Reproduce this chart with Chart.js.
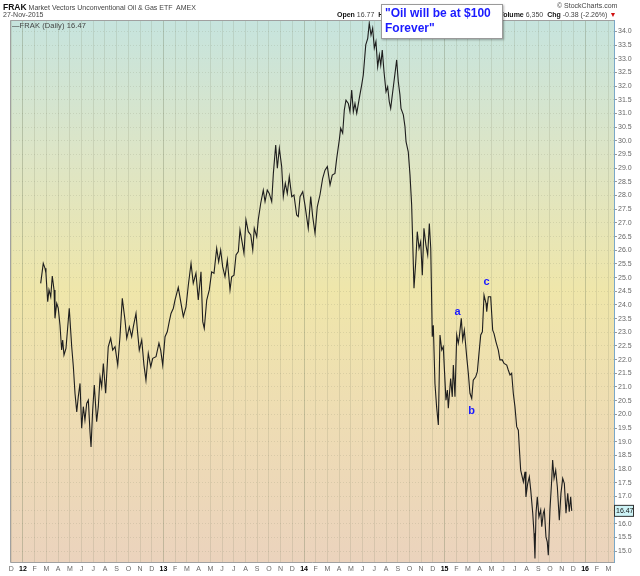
<!DOCTYPE html>
<html>
<head>
<meta charset="utf-8">
<script src="https://cdn.jsdelivr.net/npm/chart.js@4.4.0/dist/chart.umd.min.js"></script>
<style>
  body { margin: 0; background: #fff; font-family: "Liberation Sans", Arial, sans-serif; }
  #wrap { position: relative; width: 640px; height: 576px; overflow: hidden; }
  #myChart { position: absolute; left: 0; top: 0; }
  .t { position: absolute; white-space: nowrap; color: #444; font-size: 7px; }
  .b { font-weight: bold; color: #111; }
  #note { position: absolute; left: 381px; top: 4px; width: 117px; height: 32px; background: #fff;
          border: 1px solid #9a9a9a; box-shadow: 1px 1px 2px rgba(0,0,0,0.3); padding: 1px 0 0 3px;
          color: #1a1aff; font-weight: bold; font-size: 12px; line-height: 15px; }
</style>
</head>
<body>
<div id="wrap">
  <canvas id="myChart" width="640" height="576"></canvas>
  <div class="t" style="left:3px;top:2px;"><span class="b" style="font-size:8.5px">FRAK</span> Market Vectors Unconventional Oil &amp; Gas ETF&nbsp; AMEX</div>
  <div class="t" style="left:3px;top:11px;">27-Nov-2015</div>
  <div class="t" style="left:12px;top:21px;color:#444;font-size:7.5px;letter-spacing:0.1px;"><span style="color:#333">&#8212;</span>FRAK (Daily) 16.47</div>
  <div class="t" style="left:557px;top:2px;">&#169; StockCharts.com</div>
  <div class="t" style="left:337px;top:11px;"><span class="b">Open</span> 16.77&nbsp; <span class="b">H</span></div>
  <div class="t" style="left:499px;top:11px;"><span class="b">Volume</span> 6,350&nbsp; <span class="b">Chg</span> -0.38 (-2.26%) <span style="color:#d01010">&#9660;</span></div>
  <div id="note">"Oil will be at $100<br>Forever"</div>
</div>
<script>
// FRAK daily close (x = months since Jan 2012)
const monthPos = [1.51,1.73,1.88,1.96,2.11,2.22,2.37,2.50,2.65,2.73,2.88,3.01,3.16,3.30,3.39,3.50,3.67,3.95,4.16,4.30,
  4.44,4.59,4.72,4.87,5.01,5.15,5.29,5.44,5.58,5.72,5.81,5.95,6.09,6.29,6.43,6.58,6.72,6.86,7.06,7.28,
  7.49,7.66,7.86,8.09,8.28,8.48,8.71,8.86,9.08,9.28,9.42,9.65,9.77,9.93,10.14,10.33,10.50,10.70,10.91,11.08,
  11.36,11.61,11.76,11.93,12.13,12.32,12.49,12.64,12.84,12.98,13.26,13.69,13.92,14.12,14.35,14.54,14.77,14.97,15.20,15.35,
  15.48,15.69,15.91,16.11,16.31,16.54,16.71,16.88,17.05,17.25,17.45,17.68,17.82,18.02,18.19,18.39,18.53,18.73,18.87,19.04,
  19.24,19.45,19.62,19.75,19.96,20.09,20.30,20.52,20.67,20.86,21.03,21.24,21.38,21.58,21.72,21.89,22.09,22.23,22.40,22.57,
  22.74,22.95,23.14,23.37,23.51,23.66,23.89,24.08,24.36,24.57,24.74,24.94,25.13,25.36,25.59,25.79,25.99,26.22,26.41,26.64,
  26.79,27.01,27.13,27.30,27.44,27.58,27.78,27.92,28.07,28.21,28.35,28.50,28.72,28.92,29.06,29.27,29.44,29.57,29.72,29.86,
  30.00,30.14,30.29,30.43,30.55,30.68,30.83,31.00,31.14,31.28,31.40,31.54,31.68,31.91,32.05,32.19,32.28,32.48,32.62,32.71,
  32.90,33.05,33.19,33.28,33.39,33.54,33.67,33.82,33.96,34.10,34.24,34.41,34.56,34.70,34.82,34.90,34.95,35.04,35.18,35.32,
  35.47,35.61,35.76,35.89,36.12,36.24,36.32,36.52,36.66,36.75,36.89,37.04,37.17,37.26,37.43,37.55,37.69,37.89,38.03,38.17,
  38.32,38.45,38.66,38.80,38.94,39.09,39.23,39.37,39.54,39.60,39.74,39.94,40.11,40.22,40.39,40.59,40.73,40.93,41.08,41.31,
  41.44,41.59,41.73,41.87,42.01,42.16,42.30,42.38,42.50,42.73,42.87,42.95,43.10,43.24,43.36,43.53,43.64,43.72,43.81,43.92,
  44.06,44.21,44.30,44.43,44.52,44.66,44.77,44.86,45.00,45.15,45.23,45.35,45.49,45.63,45.80,45.94,46.09,46.23,46.37,46.52,
  46.65,46.77,46.86]
const closes = [24.79,25.52,25.34,25.16,24.12,24.55,24.30,25.06,24.55,23.51,24.06,23.88,23.26,22.35,22.72,22.17,22.41,23.88,22.47,21.74,
  20.77,20.09,20.64,21.13,19.49,20.28,19.79,20.40,20.52,19.36,18.81,20.16,21.07,19.73,20.28,21.37,21.01,21.86,20.77,22.47,
  22.78,22.35,22.47,21.80,22.84,24.24,23.45,22.78,23.20,22.84,23.20,23.69,23.08,22.35,22.72,21.80,21.25,22.23,21.74,22.05,
  22.11,22.60,22.35,21.80,22.84,23.02,23.39,23.69,23.88,24.18,24.64,23.57,23.93,24.73,25.52,24.79,25.16,24.18,25.21,23.39,
  23.14,24.18,24.55,25.21,25.16,26.07,25.58,26.01,25.40,25.03,25.64,24.55,25.03,25.09,25.83,25.95,26.74,26.25,25.89,27.11,
  26.68,26.56,26.01,26.80,26.49,27.11,27.72,28.20,27.78,28.20,28.08,27.78,28.81,29.85,29.00,29.73,29.06,27.96,28.45,28.08,
  28.69,27.96,28.02,27.29,27.23,27.96,28.14,27.65,26.80,27.96,27.23,26.62,27.59,28.02,28.63,28.93,29.06,28.39,28.75,28.81,
  29.36,30.03,30.46,30.28,31.13,31.49,31.37,31.07,31.86,31.07,31.37,31.01,31.56,32.04,32.41,33.51,33.75,34.30,33.87,34.12,
  33.39,33.63,32.71,33.14,32.77,33.32,32.53,31.80,31.98,31.43,31.19,31.68,32.16,32.96,32.16,31.68,31.19,30.95,30.52,29.97,
  29.60,28.75,27.65,26.31,24.61,25.58,26.68,26.07,26.31,25.09,26.80,26.19,25.83,26.98,26.07,24.12,22.84,23.26,21.13,20.28,
  19.61,22.90,22.35,22.47,20.52,20.89,20.22,21.31,20.64,21.80,20.64,22.90,22.60,22.84,23.51,22.72,23.08,22.11,21.50,20.77,
  20.58,21.25,21.37,21.56,22.23,22.90,23.02,24.36,24.06,23.75,24.30,24.30,23.08,22.96,22.65,22.35,21.99,21.99,21.86,21.80,
  21.62,21.44,21.50,20.77,20.28,19.55,19.42,18.81,17.96,17.53,17.90,16.98,17.47,17.72,17.23,16.38,15.65,14.73,16.38,16.98,
  16.25,16.50,15.89,16.38,16.50,15.52,15.34,14.85,16.50,17.60,18.33,17.66,17.96,17.35,16.13,17.11,17.66,17.47,16.38,17.11,
  16.44,16.98,16.47]

const monthLetters = ['J','F','M','A','M','J','J','A','S','O','N','D']
const lastClose = 16.47

// wave labels a, b, c
const noteText = ['a', 'b', 'c']
const noteX = [37.12, 38.31, 39.59]
const noteY = [23.73, 20.14, 24.85]

const points = monthPos.map((m, i) => ({ x: m, y: closes[i] }))

const isYear = c => !!(c && c.tick && c.tick.value % 12 === 0)

const backdrop = {
    id: 'backdrop',
    beforeDraw(chart) {
        const a = chart.chartArea
        const c = chart.ctx
        const g = c.createLinearGradient(0, a.top, 0, a.bottom)
        g.addColorStop(0, '#c6e4de')
        g.addColorStop(0.25, '#dde5c6')
        g.addColorStop(0.5, '#efe6aa')
        g.addColorStop(0.75, '#eedcb4')
        g.addColorStop(1, '#ebd3bd')
        c.save()
        c.fillStyle = g
        c.fillRect(a.left, a.top, a.right - a.left, a.bottom - a.top)
        c.restore()
    },
    afterDraw(chart) {
        const a = chart.chartArea
        const c = chart.ctx
        const xs = chart.scales.x
        const ys = chart.scales.y
        c.save()
        c.strokeStyle = '#a0a0a0'
        c.lineWidth = 1
        c.beginPath()
        c.moveTo(a.right, a.top + 0.5)
        c.lineTo(a.left + 0.5, a.top + 0.5)
        c.lineTo(a.left + 0.5, a.bottom + 0.5)
        c.lineTo(a.right, a.bottom + 0.5)
        c.stroke()

        c.fillStyle = '#1a1aff'
        c.font = 'bold 11px "Liberation Sans", Arial'
        c.textAlign = 'center'
        c.textBaseline = 'middle'
        noteText.forEach((t, i) => {
            c.fillText(t, xs.getPixelForValue(noteX[i]), ys.getPixelForValue(noteY[i]))
        })

        // last price tag
        const py = ys.getPixelForValue(lastClose)
        c.fillStyle = '#cdf3f6'
        c.strokeStyle = '#333'
        c.fillRect(a.right + 0.5, py - 5.5, 19, 11)
        c.strokeRect(a.right + 0.5, py - 5.5, 19, 11)
        c.fillStyle = '#111'
        c.font = '7px "Liberation Sans", Arial'
        c.textAlign = 'left'
        c.fillText(lastClose.toFixed(2), a.right + 2, py + 0.5)
        c.restore()
    }
}

var ctx = document.getElementById('myChart')
var myChart = new Chart(ctx, {
    type: 'line',
    data: {
        datasets: [{
            label: 'FRAK (Daily)',
            data: points,
            borderColor: '#1e1e1e',
            borderWidth: 1.1,
            pointRadius: 0,
            tension: 0
        }]
    },
    options: {
        responsive: false,
        animation: false,
        layout: { padding: { left: 10, top: 20, right: 0, bottom: 0 } },
        plugins: { legend: { display: false }, tooltip: { enabled: false } },
        scales: {
            x: {
                type: 'linear',
                min: -1.11,
                max: 50.47,
                afterFit: s => { s.height = 14 },
                afterBuildTicks: s => {
                    // one tick per month start, Dec 2011 .. Mar 2016
                    const t = []
                    for (let m = Math.ceil(s.min); m <= Math.floor(s.max); m++) t.push({ value: m })
                    s.ticks = t
                },
                grid: {
                    drawTicks: false,
                    color: c => isYear(c) ? 'rgba(110,120,90,0.33)' : 'rgba(120,130,100,0.18)'
                },
                border: { display: false },
                ticks: {
                    autoSkip: false,
                    maxRotation: 0,
                    padding: 3,
                    color: c => isYear(c) ? '#000' : '#666',
                    font: c => ({ family: '"Liberation Sans", Arial', size: 7, weight: isYear(c) ? 'bold' : 'normal' }),
                    callback: v => {
                        const m = ((v % 12) + 12) % 12
                        if (m === 0) return String(12 + v / 12)
                        return monthLetters[m]
                    }
                }
            },
            y: {
                position: 'right',
                min: 14.6,
                max: 34.42,
                afterFit: s => { s.width = 26 },
                afterBuildTicks: s => { s.ticks = s.ticks.filter(t => Math.abs(t.value * 2 - Math.round(t.value * 2)) < 1e-6) },
                grid: { color: 'rgba(120,130,100,0.18)', tickLength: 3, tickColor: '#999' },
                border: { display: true, color: '#7aa7c7', dash: [1, 2] },
                ticks: {
                    stepSize: 0.5,
                    padding: 1,
                    color: '#666',
                    font: { family: '"Liberation Sans", Arial', size: 7 },
                    callback: v => v.toFixed(1)
                }
            }
        }
    },
    plugins: [backdrop]
})
</script>
</body>
</html>
